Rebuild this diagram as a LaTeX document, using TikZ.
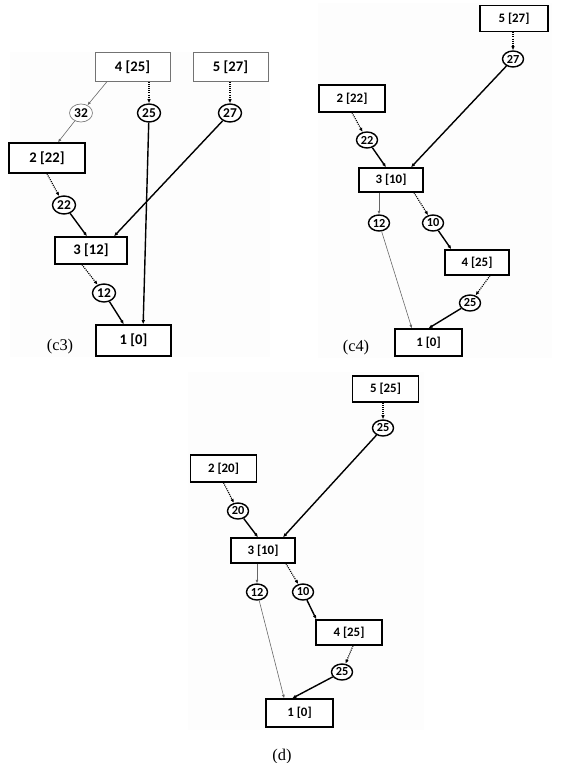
\documentclass[tikz,border=0pt]{standalone}
\usepackage{fontspec}
\setmainfont{Liberation Serif}
\newfontfamily\boxfont{Carlito}
\usetikzlibrary{shapes.geometric,arrows.meta}

\tikzset{
  statebox/.style={draw, line width=1.2pt, inner sep=0pt, fill=white,
    minimum width=1.98cm, minimum height=0.78cm,
    font=\boxfont\bfseries\fontsize{11}{13}\selectfont},
  bigbox/.style={statebox, minimum width=2.25cm, minimum height=0.87cm,
    font=\boxfont\bfseries\fontsize{12.5}{14}\selectfont},
  palebox/.style={bigbox, line width=0.6pt, draw=black!55},
  cost/.style={draw, ellipse, line width=1.2pt, inner sep=0pt, fill=white,
    minimum width=0.63cm, minimum height=0.48cm,
    font=\boxfont\bfseries\fontsize{10.5}{12}\selectfont},
  bigcost/.style={cost, minimum width=0.69cm, minimum height=0.54cm,
    font=\boxfont\bfseries\fontsize{11.5}{13}\selectfont},
  palecost/.style={bigcost, line width=0.6pt, draw=black!50},
  dotarr/.style={line width=1pt, dash pattern=on 0.9pt off 0.9pt, -{Latex[length=3.5pt,width=3pt]}},
  solarr/.style={line width=1.2pt, -{Latex[length=3.5pt,width=3pt]}},
  thinarr/.style={line width=0.5pt, draw=black!60, -{Latex[length=3pt,width=2.5pt]}},
  panel/.style={fill=black!0.6, draw=none},
  caption/.style={font=\fontsize{14}{16}\selectfont}
}

\begin{document}
\begin{tikzpicture}[x=0.03cm, y=-0.03cm]
    \useasboundingbox (0,0) rectangle (586,763);

    % faint panel backgrounds
    \fill[panel] (10,52) rectangle (270,357);
    \fill[panel] (318,3) rectangle (552,358);
    \fill[panel] (188,372) rectangle (424,730);

    % ---------------- panel (c3) ----------------
    \node[palebox] (p3b4) at (132.5,67) {4 [25]};
    \node[palebox] (p3b5) at (230.5,67) {5 [27]};
    \node[palecost] (p3c32) at (81,113) {32};
    \node[bigcost] (p3c25) at (149,113) {25};
    \node[bigcost] (p3c27) at (230,113) {27};
    \node[bigbox, minimum width=2.28cm, minimum height=0.9cm] (p3b2) at (47,158) {2 [22]};
    \node[bigcost] (p3c22) at (64,205) {22};
    \node[bigbox, minimum width=2.16cm, minimum height=0.81cm] (p3b3) at (91,250.5) {3 [12]};
    \node[bigcost] (p3c12) at (104,293) {12};
    \node[bigbox, minimum height=0.93cm] (p3b1) at (133.5,340.5) {1 [0]};
    \node[caption] (p3lab) at (60,347) {(c3)};

    \draw[thinarr] ([xshift=-0.77cm]p3b4.south) -- (p3c32);
    \draw[thinarr] (p3c32) -- ([xshift=0.33cm]p3b2.north);
    \draw[dotarr] (p3c25 |- p3b4.south) -- (p3c25);
    \draw[dotarr] (p3c27 |- p3b5.south) -- (p3c27);
    \draw[dotarr] (p3b2.south) -- (p3c22);
    \draw[solarr] (p3c22) -- ([xshift=-0.12cm]p3b3.north);
    \draw[solarr] (p3c27) -- ([xshift=0.69cm]p3b3.north);
    \draw[dotarr] ([xshift=-0.27cm]p3b3.south) -- (p3c12);
    \draw[solarr] (p3c12) -- ([xshift=-0.29cm]p3b1.north);
    \draw[solarr] (p3c25) -- ([xshift=0.29cm]p3b1.north);

    % ---------------- panel (c4) ----------------
    \node[statebox, minimum width=2.04cm] (p4b5) at (514,18.5) {5 [27]};
    \node[cost] (p4c27) at (513,59) {27};
    \node[statebox, minimum height=0.81cm] (p4b2) at (352,98.5) {2 [22]};
    \node[cost] (p4c22) at (367,140) {22};
    \node[statebox, minimum width=1.92cm, minimum height=0.72cm] (p4b3) at (391,180) {3 [10]};
    \node[cost] (p4c12) at (379,223) {12};
    \node[cost] (p4c10) at (433,223) {10};
    \node[statebox, minimum width=1.92cm, minimum height=0.75cm] (p4b4) at (477,262.5) {4 [25]};
    \node[cost] (p4c25) at (470,303) {25};
    \node[statebox, minimum width=2.01cm, minimum height=0.81cm] (p4b1) at (428.5,342.5) {1 [0]};
    \node[caption] (p4lab) at (356,348) {(c4)};

    \draw[dotarr] (p4c27 |- p4b5.south) -- (p4c27);
    \draw[solarr] (p4c27) -- ([xshift=0.6cm]p4b3.north);
    \draw[dotarr] (p4b2.south) -- (p4c22);
    \draw[solarr] (p4c22) -- ([xshift=-0.15cm]p4b3.north);
    \draw[thinarr] (p4c12 |- p4b3.south) -- (p4c12);
    \draw[dotarr] ([xshift=0.69cm]p4b3.south) -- (p4c10);
    \draw[solarr] (p4c10) -- ([xshift=0.21cm]p4b4.north west);
    \draw[dotarr] ([xshift=0.39cm]p4b4.south) -- (p4c25);
    \draw[solarr] (p4c25) -- (p4b1.north);
    \draw[thinarr] (p4c12) -- ([xshift=-0.5cm]p4b1.north);

    % ---------------- panel (d) ----------------
    \node[statebox] (pdb5) at (385.5,389) {5 [25]};
    \node[cost] (pdc25a) at (383,428) {25};
    \node[statebox, minimum height=0.81cm] (pdb2) at (223.5,468.5) {2 [20]};
    \node[cost] (pdc20) at (238,511) {20};
    \node[statebox, minimum width=1.92cm, minimum height=0.75cm] (pdb3) at (263,550.5) {3 [10]};
    \node[cost] (pdc12) at (257,592) {12};
    \node[cost] (pdc10) at (303,592) {10};
    \node[statebox, minimum height=0.75cm] (pdb4) at (349,632.5) {4 [25]};
    \node[cost] (pdc25b) at (342,672) {25};
    \node[statebox, minimum width=2.01cm, minimum height=0.84cm] (pdb1) at (299.5,713) {1 [0]};
    \node[caption] (pdlab) at (282,757) {(d)};

    \draw[dotarr] (pdc25a |- pdb5.south) -- (pdc25a);
    \draw[solarr] (pdc25a) -- ([xshift=0.6cm]pdb3.north);
    \draw[dotarr] (pdb2.south) -- (pdc20);
    \draw[solarr] (pdc20) -- ([xshift=-0.15cm]pdb3.north);
    \draw[thinarr] (pdc12 |- pdb3.south) -- (pdc12);
    \draw[dotarr] ([xshift=0.69cm]pdb3.south) -- (pdc10);
    \draw[solarr] (pdc10) -- ([xshift=0.03cm]pdb4.north west);
    \draw[dotarr] ([xshift=0.12cm]pdb4.south) -- (pdc25b);
    \draw[solarr] (pdc25b) -- ([xshift=-0.22cm]pdb1.north);
    \draw[thinarr] (pdc12) -- ([xshift=-0.46cm]pdb1.north);
\end{tikzpicture}
\end{document}
